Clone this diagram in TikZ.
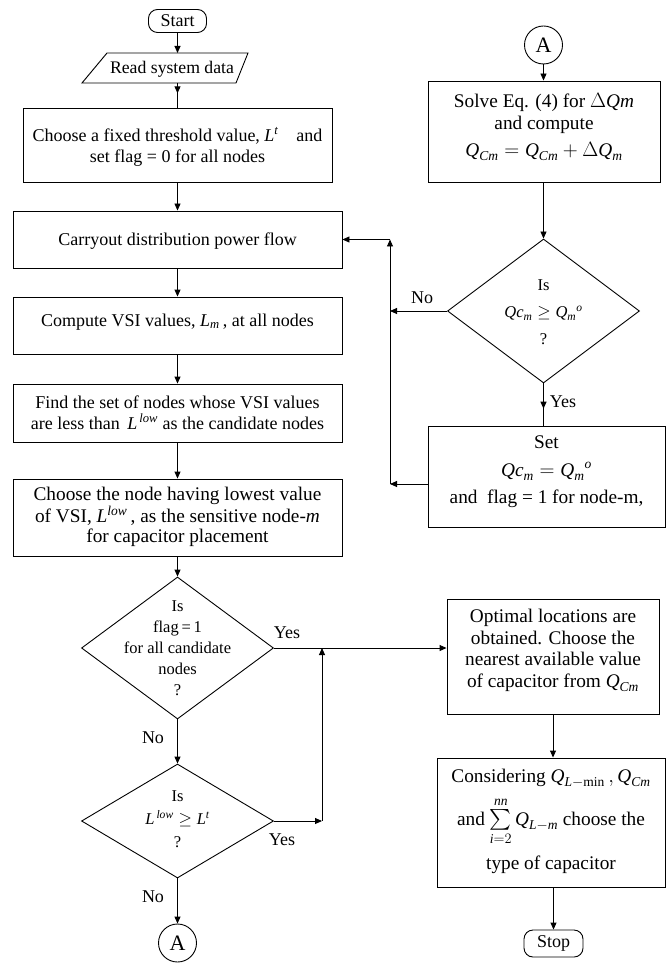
\documentclass[tikz,border=0pt]{standalone}
\usepackage{amsmath}
\usepackage{fontspec}
\setmainfont{Liberation Serif}
\usetikzlibrary{arrows.meta,shapes.geometric,decorations.markings}
\newcommand{\myit}[1]{\textit{#1}}
\tikzset{
  every node/.style={inner sep=0pt},
  box/.style={draw, line width=0.9pt, inner sep=0pt},
  fL/.style={align=center, font=\fontsize{18}{21}\selectfont},
  fR/.style={align=center, font=\fontsize{19.3}{22}\selectfont},
  fD/.style={align=center, font=\fontsize{16.5}{21}\selectfont},
  lbl/.style={font=\fontsize{18}{21}\selectfont},
  ln/.style={line width=0.9pt},
  arr/.style={line width=0.9pt, -{Triangle[length=7pt,width=6pt]}},
  midarr/.style={line width=0.9pt, decoration={markings, mark=at position #1 with {\arrow{Triangle[length=7pt,width=6pt]}}}, postaction={decorate}},
  conn/.style={draw, circle, line width=0.9pt, minimum size=38pt, font=\fontsize{22}{22}\selectfont},
  term/.style={draw, rounded corners=9pt, line width=0.9pt, font=\fontsize{18}{18}\selectfont},
  dia/.style={draw, diamond, line width=0.9pt, inner sep=0pt},
}
\begin{document}
\begin{tikzpicture}[x=1pt,y=-1pt]
\useasboundingbox (0,0) rectangle (666,965);

% ---------- left column ----------
\node[term, minimum width=58pt, minimum height=23pt] (start) at (177.5,21) {Start};
\draw[ln] (107,53) -- (248,53) -- (236,83) -- (82,83) -- cycle;
\node[fL, font=\fontsize{17.7}{21}\selectfont] (read) at (172,69) {Read system data};
\coordinate (readtop) at (177.5,53);
\coordinate (readbot) at (177.5,83);

\node[box, minimum width=309pt, minimum height=74pt] (b1) at (177.5,145) {};
\node[fL] (b1t) at (177.5,147) {Choose a fixed threshold value, $\myit{L}^{\myit{t}}$\quad and\\ set flag = 0 for all nodes};

\node[box, minimum width=329pt, minimum height=57pt] (b2) at (177.5,239.5) {};
\node[fL] (b2t) at (177.5,241) {Carryout distribution power flow};

\node[box, minimum width=329pt, minimum height=57pt] (b3) at (177.5,325.5) {};
\node[fL] (b3t) at (177.5,322) {Compute VSI values, $\myit{L}_{\myit{m}}$\,, at all nodes};

\node[box, minimum width=329pt, minimum height=58pt] (b4) at (177.5,413) {};
\node[fL] (b4t) at (177.5,412.5) {Find the set of nodes whose VSI values\\are less than \,$\myit{L}^{\,\myit{low}}$ as the candidate nodes};

\node[box, minimum width=329pt, minimum height=77pt] (b5) at (177.5,517.5) {};
\node[fR, font=\fontsize{19.3}{20}\selectfont] (b5t) at (177.5,517) {Choose the node having lowest value\\of VSI, $\myit{L}^{\myit{low}}$\,, as the sensitive node-\myit{m}\\for capacitor placement};

\node[dia, minimum width=192pt, minimum height=142pt] (d1) at (177.5,648) {};
\node[fD] (d1t) at (177.5,648) {Is\\flag\,=\,1\\for all candidate\\nodes\\?};

\node[dia, minimum width=192pt, minimum height=114pt] (d2) at (177.5,821) {};
\node[fD, font=\fontsize{16.5}{23}\selectfont] (d2t) at (177.5,819) {Is\\$\myit{L}^{\,\myit{low}} \geq \myit{L}^{\myit{t}}$\\?};

\node[conn] (A1) at (177.5,943) {A};

\node[lbl] (no1) at (153,738) {No};
\node[lbl] (no2) at (153,897) {No};
\node[lbl] (yes1) at (287,633) {Yes};
\node[lbl] (yes2) at (282,840) {Yes};

% ---------- right column ----------
\node[conn] (A2) at (543.5,45) {A};

\node[box, minimum width=232pt, minimum height=101pt] (solve) at (544,131.5) {};
\node[fR] (solvet) at (544,127) {Solve Eq. (4) for $\Delta\myit{Qm}$\\and compute\\[5pt]$\myit{Q}_{\myit{Cm}} = \myit{Q}_{\myit{Cm}} + \Delta\myit{Q}_{\myit{m}}$};

\node[dia, minimum width=192pt, minimum height=144pt] (d3) at (543.5,311) {};
\node[fD, font=\fontsize{16.5}{27}\selectfont] (d3t) at (543.5,312) {Is\\$\myit{Qc}_{\myit{m}} \geq \myit{Q}_{\myit{m}}{}^{\myit{o}}$\\?};

\node[box, minimum width=237pt, minimum height=101pt] (set) at (546.5,476.5) {};
\node[fR, font=\fontsize{19.3}{27.5}\selectfont] (sett) at (546.5,472) {Set\\$\myit{Qc}_{\myit{m}} = \myit{Q}_{\myit{m}}{}^{\myit{o}}$\\and\ \ flag = 1 for node-m,};

\node[box, minimum width=212pt, minimum height=115pt] (opt) at (553,656.5) {};
\node[fR, font=\fontsize{19.3}{21.7}\selectfont] (optt) at (553,650.5) {Optimal locations are\\obtained. Choose the\\nearest available value\\of capacitor from $\myit{Q}_{\myit{Cm}}$};

\node[box, minimum width=228pt, minimum height=129pt] (cons) at (551,822.5) {};
\node[fR, font=\fontsize{19.3}{21}\selectfont] (const) at (551,821) {Considering $\myit{Q}_{\myit{L}-\mathrm{min}}\,, \myit{Q}_{\myit{Cm}}$\\[9pt]and $\sum\limits_{\myit{i}=2}^{\myit{nn}} \myit{Q}_{\myit{L}-\myit{m}}$ choose the\\[9pt]type of capacitor};

\node[term, minimum width=59pt, minimum height=27pt] (stop) at (553.5,943.5) {Stop};

\node[lbl] (no3) at (422,298) {No};
\node[lbl] (yes3) at (563,402) {Yes};

\coordinate (j1) at (322,821);
\coordinate (j2) at (322,648);
\coordinate (k1) at (390,311);
\coordinate (k2) at (390,484);
\coordinate (k3) at (390,239.5);

% ---------- connectors ----------
\draw[arr] (start.south) -- (readtop);
\draw[midarr=0.42] (readbot) -- (b1.north);
\draw[arr] (b1.south) -- (b2.north);
\draw[arr] (b2.south) -- (b3.north);
\draw[arr] (b3.south) -- (b4.north);
\draw[arr] (b4.south) -- (b5.north);
\draw[arr] (b5.south) -- (d1.north);
\draw[arr] (d1.south) -- (d2.north);
\draw[arr] (d2.south) -- (A1.north);
\draw[arr] (d1.east) -- (d1.east -| opt.west);
\draw[arr] (d2.east) -- (j1);
\draw[arr] (j1) -- (j2);

\draw[arr] (A2.south) -- (A2.south |- solve.north);
\draw[arr] (solve.south -| d3.north) -- (d3.north);
\draw[midarr=0.6] (d3.south) -- (d3.south |- set.north);
\draw[arr] (d3.west) -- (k1);
\draw[arr] (set.west |- k2) -- (k2);
\draw[arr] (k2) -- (k3);
\draw[arr] (k3) -- (k3 -| b2.east);
\draw[arr] (opt.south) -- (opt.south |- cons.north);
\draw[arr] (cons.south -| stop.north) -- (stop.north);
\end{tikzpicture}
\end{document}
